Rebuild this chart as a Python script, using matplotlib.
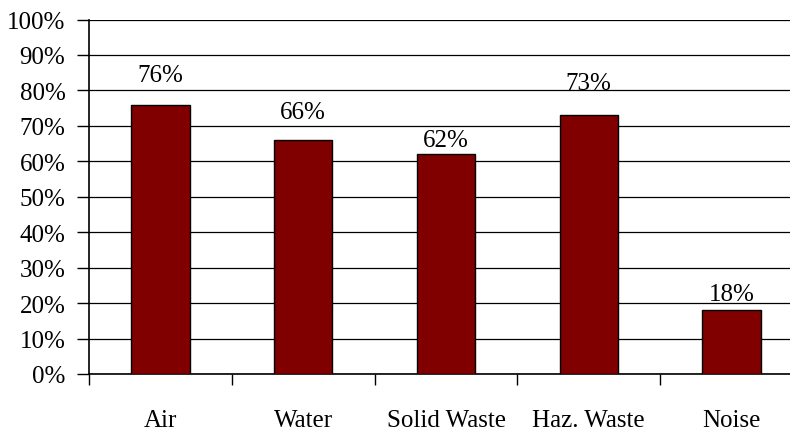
import matplotlib.pyplot as plt
import numpy as np
from matplotlib.ticker import FixedLocator, PercentFormatter

categories = ["Air", "Water", "Solid Waste", "Haz. Waste", "Noise"]
values = [76, 66, 62, 73, 18]
value_labels = ["76%", "66%", "62%", "73%", "18%"]
y_ticks = [0, 10, 20, 30, 40, 50, 60, 70, 80, 90, 100]

# label offsets above bar tops, in points (as placed in the original)
LABEL_OFFSETS = [21.5, 20.0, 10.0, 23.5, 12.0]
FS = 18

plt.rcParams["font.family"] = ["Liberation Serif", "DejaVu Serif"]

fig = plt.figure(figsize=(7.9, 4.31), dpi=100)
ax = fig.add_axes([89 / 790, 56 / 431, 714 / 790, 354.5 / 431])

x = np.arange(len(categories))
bars = ax.bar(x, values, width=0.41, color="#800000", edgecolor="black",
              linewidth=1.0, zorder=3)

for xi, v, lab, off in zip(x, values, value_labels, LABEL_OFFSETS):
    ax.annotate(lab, (xi, v), xytext=(0, off), textcoords="offset points",
                ha="center", va="center", fontsize=FS, zorder=4)

ax.set_xlim(-0.5, len(categories) - 0.5)
ax.set_ylim(0, 100)
ax.set_yticks(y_ticks)
ax.yaxis.set_major_formatter(PercentFormatter(decimals=0))
ax.grid(axis="y", color="black", linewidth=0.9, zorder=0)

# category boundaries get tick marks, labels sit on minor ticks
ax.xaxis.set_major_locator(FixedLocator(np.arange(-0.5, len(categories) + 0.5)))
ax.xaxis.set_minor_locator(FixedLocator(x))
ax.set_xticklabels([], minor=False)
ax.set_xticklabels(categories, minor=True)
ax.tick_params(axis="x", which="major", direction="out", length=8, width=1)
ax.tick_params(axis="x", which="minor", length=0, pad=25, labelsize=FS)
ax.tick_params(axis="y", direction="out", length=9, width=1, pad=8, labelsize=FS)

for side in ("top", "right"):
    ax.spines[side].set_visible(False)
for side in ("left", "bottom"):
    ax.spines[side].set_linewidth(1.2)

fig.savefig("out.png", dpi=100)
